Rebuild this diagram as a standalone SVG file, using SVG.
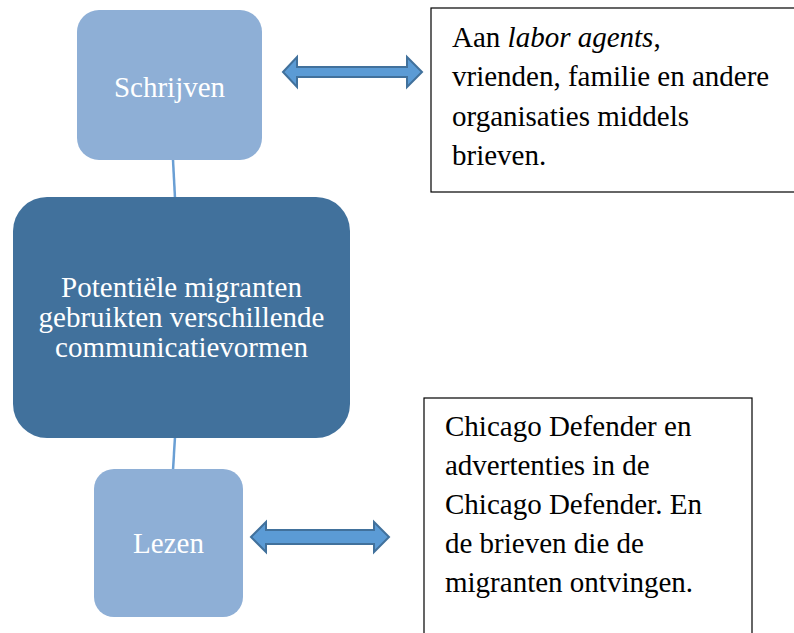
<svg xmlns="http://www.w3.org/2000/svg" width="794" height="633" viewBox="0 0 794 633">
<style>
.light{fill:#8EAFD6;stroke:none}
.dark{fill:#41719C;stroke:none}
.wt{fill:#FFFFFF;font-family:"Liberation Serif","Times New Roman",serif;font-size:29px;text-anchor:middle}
.bt{fill:#000000;font-family:"Liberation Serif","Times New Roman",serif;font-size:29px}
.box{fill:#FFFFFF;stroke:#000000;stroke-width:1.2}
.arr{fill:#5B9BD5;stroke:#41719C;stroke-width:2;stroke-linejoin:miter}
.con{stroke:#6A9FD4;stroke-width:2.5;fill:none}
</style>
<rect width="794" height="633" fill="#FFFFFF"/>
<g id="connectors">
<line class="con" x1="173" y1="160" x2="175" y2="198"/>
<line class="con" x1="175" y1="437" x2="173" y2="470"/>
<path class="arr" d="M283,72 L297,57 L297,67 L407,67 L407,57 L422,72 L407,87 L407,77 L297,77 L297,87 Z"/>
<path class="arr" d="M251,537 L266,522 L266,530 L374,530 L374,522 L389,537 L374,552 L374,544 L266,544 L266,552 Z"/>
</g>
<g id="schrijven">
<rect class="light" x="77" y="10" width="185" height="150" rx="22"/>
<text class="wt" x="169.5" y="97">Schrijven</text>
</g>
<g id="main">
<rect class="dark" x="13" y="197" width="337" height="241" rx="34"/>
<text class="wt" x="181.5" y="297">Potentiële migranten</text>
<text class="wt" x="181.5" y="327">gebruikten verschillende</text>
<text class="wt" x="181.5" y="357">communicatievormen</text>
</g>
<g id="lezen">
<rect class="light" x="94" y="469" width="149" height="148" rx="20"/>
<text class="wt" x="168.5" y="553">Lezen</text>
</g>
<g id="note-top">
<rect class="box" x="431" y="8" width="380" height="184"/>
<text class="bt" x="452" y="47">Aan <tspan font-style="italic">labor agents</tspan>,</text>
<text class="bt" x="452" y="86">vrienden, familie en andere</text>
<text class="bt" x="452" y="126">organisaties middels</text>
<text class="bt" x="452" y="165">brieven.</text>
</g>
<g id="note-bottom">
<rect class="box" x="424" y="398" width="328" height="260"/>
<text class="bt" x="445" y="436">Chicago Defender en</text>
<text class="bt" x="445" y="475">advertenties in de</text>
<text class="bt" x="445" y="514">Chicago Defender. En</text>
<text class="bt" x="445" y="553">de brieven die de</text>
<text class="bt" x="445" y="592">migranten ontvingen.</text>
</g>
</svg>
